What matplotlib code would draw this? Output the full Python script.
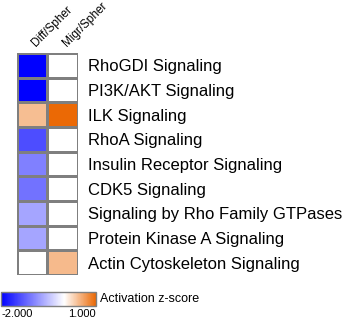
import numpy as np
import matplotlib
matplotlib.use("Agg")
import matplotlib.pyplot as plt
from matplotlib.colors import LinearSegmentedColormap, Normalize
from matplotlib.transforms import ScaledTranslation
import matplotlib.colorbar as mcolorbar

plt.rcParams['font.family'] = ['Liberation Sans', 'DejaVu Sans']

# data
pathways = ["RhoGDI Signaling", "PI3K/AKT Signaling", "ILK Signaling",
            "RhoA Signaling", "Insulin Receptor Signaling", "CDK5 Signaling",
            "Signaling by Rho Family GTPases", "Protein Kinase A Signaling",
            "Actin Cytoskeleton Signaling"]
conditions = ["Diff/Spher", "Migr/Spher"]
diff_z = [-2.0, -2.0, 0.43, -1.4, -1.0, -1.1, -0.7, -0.7, 0.0]
migr_z = [0.0, 0.0, 1.0, 0.0, 0.0, 0.0, 0.0, 0.0, 0.45]
zmin, zmax = -2.0, 1.0

z = np.column_stack([diff_z, migr_z])

# white sits at z = 0 on a linear scale
wpos = (0 - zmin) / (zmax - zmin)
cmap = LinearSegmentedColormap.from_list(
    "act", [(0.0, "#0000ff"), (wpos, "#ffffff"), (1.0, "#eb6905")])
norm = Normalize(vmin=zmin, vmax=zmax)

fig = plt.figure(figsize=(3.5, 3.19), dpi=100)
ax = fig.add_axes([0.0486, 0.138, 0.174, 0.696])
ax.pcolormesh(z, cmap=cmap, norm=norm, edgecolors="#7f7f7f", linewidth=1.0)
ax.set_xlim(0, 2)
ax.set_ylim(len(pathways), 0)
for s in ax.spines.values():
    s.set_visible(False)

ax.xaxis.tick_top()
ax.set_xticks(np.arange(len(conditions)) + 0.5)
ax.set_xticklabels(conditions, rotation=45, ha="left", rotation_mode="anchor",
                   fontsize=8.5)
ax.tick_params(axis="x", length=0, pad=3)
shift = ScaledTranslation(6 / 100, 0, fig.dpi_scale_trans)
for lab in ax.get_xticklabels():
    lab.set_transform(lab.get_transform() + shift)

ax.yaxis.tick_right()
ax.set_yticks(np.arange(len(pathways)) + 0.5)
ax.set_yticklabels(pathways, fontsize=12)
ax.tick_params(axis="y", length=0, pad=7)

# colorbar
cax = fig.add_axes([0.003, 0.041, 0.271, 0.044])
cb = mcolorbar.ColorbarBase(cax, cmap=cmap, norm=norm, orientation="horizontal",
                            ticks=[zmin, zmax])
cb.outline.set_edgecolor("#7f7f7f")
cb.outline.set_linewidth(1.0)
cax.set_xticklabels(["%.3f" % zmin, "%.3f" % zmax], fontsize=8)
cax.tick_params(axis="x", length=0, pad=2)
labs = cax.get_xticklabels()
labs[0].set_ha("left")
labs[1].set_ha("right")
fig.text(0.286, 0.063, "Activation z-score", fontsize=9, va="center", ha="left")

fig.savefig("out.png", dpi=100)
